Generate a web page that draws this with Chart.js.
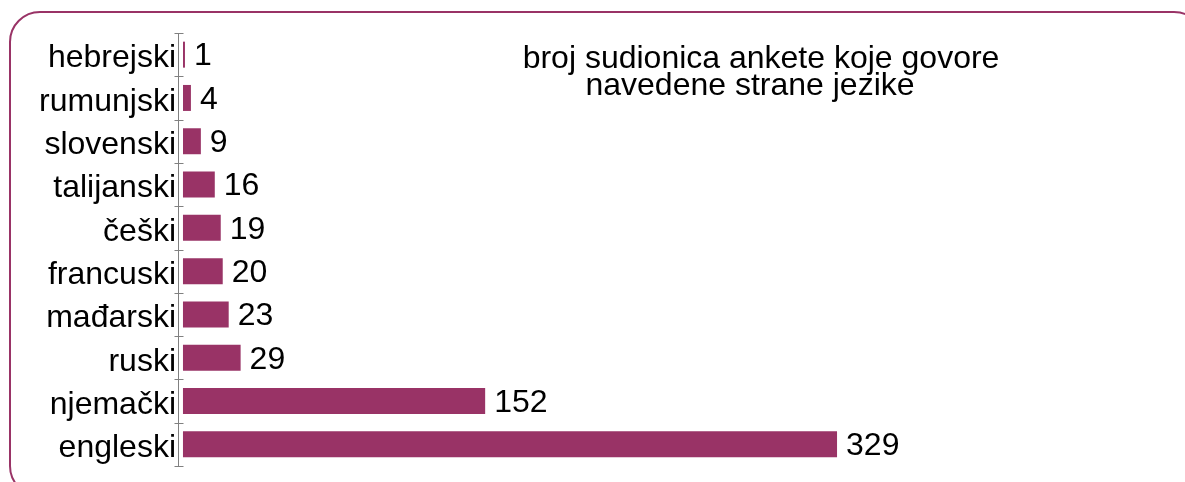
<!DOCTYPE html>
<html>
<head>
<meta charset="utf-8">
<script src="https://cdn.jsdelivr.net/npm/chart.js@4"></script>
<style>
  html, body { margin: 0; padding: 0; background: #fff; overflow: hidden; }
  #frame {
    position: absolute; left: 9px; top: 11px; width: 1196px; height: 486px;
    border: 2px solid #993366; border-radius: 31px; box-sizing: border-box;
  }
  #wrap { position: absolute; left: 0; top: 0; width: 1185px; height: 482px; }
</style>
</head>
<body>
<div id="frame"></div>
<div id="wrap"><canvas id="langChart"></canvas></div>
<script>
// languages spoken by survey participants (top to bottom)
const languages = ['hebrejski', 'rumunjski', 'slovenski', 'talijanski', 'češki',
                   'francuski', 'mađarski', 'ruski', 'njemački', 'engleski'];
const speakers = [1, 4, 9, 16, 19, 20, 23, 29, 152, 329];
const titleLines = ['broj sudionica ankete koje govore', 'navedene strane jezike'];

const barColor = '#993366';
const fontFamily = '"Liberation Sans", Arial, sans-serif';
const fontSize = 32;

// numbers to the right of each bar
const valueLabels = {
  id: 'valueLabels',
  afterDatasetsDraw(chart) {
    const ctx = chart.ctx;
    const meta = chart.getDatasetMeta(0);
    ctx.save();
    ctx.font = fontSize + 'px ' + fontFamily;
    ctx.fillStyle = '#000';
    ctx.textAlign = 'left';
    ctx.textBaseline = 'middle';
    meta.data.forEach((bar, i) => {
      ctx.fillText(String(speakers[i]), bar.x + 9, bar.y + 2);
    });
    ctx.restore();
  }
};

// small tick marks crossing the category axis at the category boundaries
const crossTicks = {
  id: 'crossTicks',
  afterDraw(chart) {
    const y = chart.scales.y;
    const ctx = chart.ctx;
    const x = Math.round(chart.chartArea.left) + 0.5;
    const step = (y.getPixelForValue(1) - y.getPixelForValue(0));
    ctx.save();
    ctx.strokeStyle = '#808080';
    ctx.lineWidth = 1;
    for (let i = 0; i <= languages.length; i++) {
      const py = Math.round(y.getPixelForValue(0) - step / 2 + i * step) + 0.5;
      ctx.beginPath();
      ctx.moveTo(x - 4, py);
      ctx.lineTo(x + 5, py);
      ctx.stroke();
    }
    ctx.restore();
  }
};

// chart title placed inside the plot area, upper right
const titleText = {
  id: 'titleText',
  afterDraw(chart) {
    const ctx = chart.ctx;
    ctx.save();
    ctx.font = fontSize + 'px ' + fontFamily;
    ctx.fillStyle = '#000';
    ctx.textAlign = 'center';
    ctx.textBaseline = 'alphabetic';
    ctx.fillText(titleLines[0], 761, 68);
    ctx.fillText(titleLines[1], 750, 95);
    ctx.restore();
  }
};

new Chart(document.getElementById('langChart'), {
  type: 'bar',
  data: {
    labels: languages,
    datasets: [{
      data: speakers,
      backgroundColor: barColor,
      borderWidth: 0,
      barPercentage: 0.6,
      categoryPercentage: 1
    }]
  },
  options: {
    indexAxis: 'y',
    responsive: true,
    maintainAspectRatio: false,
    animation: false,
    layout: { padding: { left: 8, right: 8, top: 33, bottom: 16 } },
    plugins: {
      legend: { display: false },
      tooltip: { enabled: false },
      title: { display: false }
    },
    scales: {
      x: { display: false, min: -2.5, max: 500 },
      y: {
        offset: true,
        grid: { display: false, drawTicks: false },
        border: { display: true, color: '#808080', width: 1 },
        ticks: {
          color: '#000',
          padding: 2,
          labelOffset: 4,
          autoSkip: false,
          font: { family: fontFamily, size: fontSize }
        },
        afterFit: (scale) => {
          scale.width = 170;
          scale.paddingTop = 0;
          scale.paddingBottom = 0;
        }
      }
    }
  },
  plugins: [valueLabels, crossTicks, titleText]
});
</script>
</body>
</html>
